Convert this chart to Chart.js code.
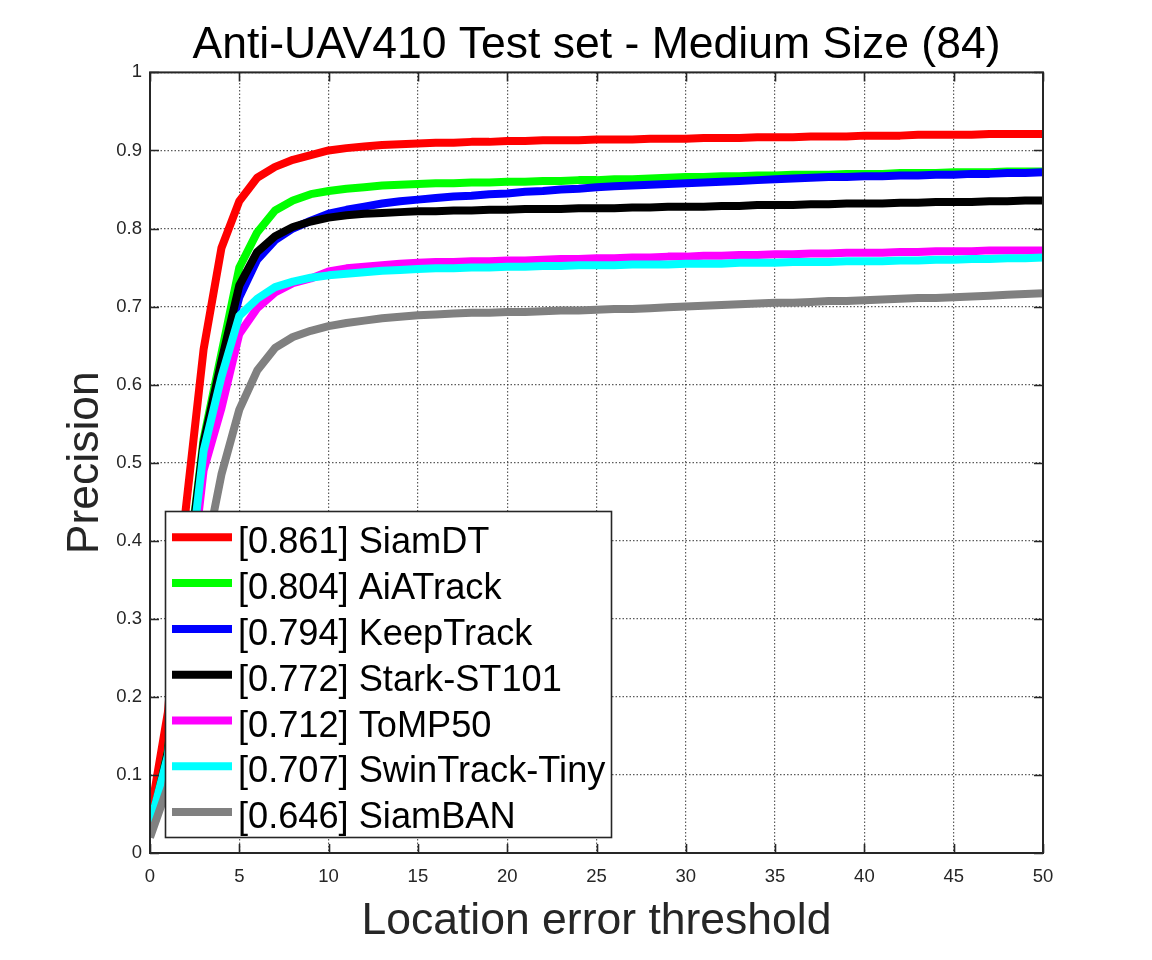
<!DOCTYPE html>
<html>
<head>
<meta charset="utf-8">
<script src="https://cdn.jsdelivr.net/npm/chart.js@4.4.0/dist/chart.umd.min.js"></script>
<style>
html,body{margin:0;padding:0;background:#ffffff;}
#c{display:block;}
</style>
</head>
<body>
<canvas id="c" width="1152" height="960"></canvas>
<script>
const titleText = 'Anti-UAV410 Test set - Medium Size (84)';
const xTitle = 'Location error threshold';
const yTitle = 'Precision';

const thresholds = [0,1,2,3,4,5,6,7,8,9,10,11,12,13,14,15,16,17,18,19,20,21,22,23,24,25,26,27,28,29,30,31,32,33,34,35,36,37,38,39,40,41,42,43,44,45,46,47,48,49,50];
const xTickLabels = ['0','5','10','15','20','25','30','35','40','45','50'];
const yTickLabels = ['0','0.1','0.2','0.3','0.4','0.5','0.6','0.7','0.8','0.9','1'];

const trackerNames = ['SiamDT','AiATrack','KeepTrack','Stark-ST101','ToMP50','SwinTrack-Tiny','SiamBAN'];
const trackerScores = ['0.861','0.804','0.794','0.772','0.712','0.707','0.646'];
const trackerColors = ['#ff0000','#00ff00','#0000ff','#000000','#ff00ff','#00ffff','#808080'];

const siamDT = [0.045,0.18,0.44,0.645,0.775,0.835,0.865,0.879,0.888,0.894,0.900,0.903,0.905,0.907,0.908,0.909,0.910,0.910,0.911,0.911,0.912,0.912,0.913,0.913,0.913,0.914,0.914,0.914,0.915,0.915,0.915,0.916,0.916,0.916,0.917,0.917,0.917,0.918,0.918,0.918,0.919,0.919,0.919,0.920,0.920,0.920,0.920,0.921,0.921,0.921,0.921];
const aiaTrack = [0.03,0.13,0.34,0.53,0.64,0.75,0.795,0.823,0.836,0.844,0.848,0.851,0.853,0.855,0.856,0.857,0.858,0.858,0.859,0.859,0.860,0.860,0.861,0.861,0.862,0.862,0.863,0.863,0.864,0.865,0.866,0.866,0.867,0.867,0.868,0.868,0.869,0.869,0.869,0.870,0.870,0.870,0.871,0.871,0.871,0.872,0.872,0.872,0.873,0.873,0.873];
const keepTrack = [0.03,0.12,0.33,0.52,0.625,0.712,0.76,0.785,0.80,0.81,0.819,0.824,0.828,0.832,0.835,0.837,0.839,0.841,0.842,0.844,0.845,0.847,0.848,0.850,0.851,0.853,0.854,0.855,0.856,0.857,0.858,0.859,0.860,0.861,0.862,0.863,0.864,0.865,0.866,0.866,0.867,0.867,0.868,0.868,0.869,0.869,0.870,0.870,0.871,0.871,0.872];
const starkST101 = [0.03,0.13,0.34,0.525,0.63,0.727,0.77,0.79,0.802,0.809,0.814,0.817,0.819,0.820,0.821,0.822,0.822,0.823,0.823,0.824,0.824,0.825,0.825,0.825,0.826,0.826,0.826,0.827,0.827,0.828,0.828,0.828,0.829,0.829,0.830,0.830,0.830,0.831,0.831,0.832,0.832,0.832,0.833,0.833,0.834,0.834,0.834,0.835,0.835,0.836,0.836];
const toMP50 = [0.03,0.115,0.29,0.49,0.57,0.665,0.698,0.718,0.73,0.736,0.745,0.749,0.751,0.753,0.755,0.756,0.757,0.757,0.758,0.758,0.759,0.759,0.760,0.761,0.761,0.762,0.762,0.763,0.763,0.764,0.764,0.765,0.765,0.766,0.766,0.767,0.767,0.768,0.768,0.769,0.769,0.769,0.770,0.770,0.771,0.771,0.771,0.772,0.772,0.772,0.772];
const swinTrackTiny = [0.035,0.125,0.32,0.515,0.61,0.688,0.71,0.725,0.732,0.737,0.740,0.742,0.744,0.746,0.747,0.748,0.749,0.749,0.750,0.750,0.751,0.751,0.752,0.752,0.753,0.753,0.753,0.754,0.754,0.754,0.755,0.755,0.755,0.756,0.756,0.756,0.757,0.757,0.757,0.758,0.758,0.758,0.759,0.759,0.760,0.760,0.761,0.761,0.762,0.762,0.763];
const siamBAN = [0.02,0.085,0.22,0.37,0.485,0.568,0.618,0.647,0.661,0.669,0.675,0.679,0.682,0.685,0.687,0.689,0.690,0.691,0.692,0.692,0.693,0.693,0.694,0.695,0.695,0.696,0.697,0.697,0.698,0.699,0.700,0.701,0.702,0.703,0.704,0.705,0.705,0.706,0.707,0.707,0.708,0.709,0.710,0.711,0.711,0.712,0.713,0.714,0.715,0.716,0.717];

const seriesValues = [siamDT, aiaTrack, keepTrack, starkST101, toMP50, swinTrackTiny, siamBAN];

const FONT = "'Liberation Sans', Arial, Helvetica, sans-serif";
const AXIS_COLOR = '#262626';

const datasets = seriesValues.map((vals, i) => ({
  label: '[' + trackerScores[i] + '] ' + trackerNames[i],
  data: vals.map((v, j) => ({x: thresholds[j], y: v})),
  borderColor: trackerColors[i],
  backgroundColor: trackerColors[i],
  borderWidth: 8,
  pointRadius: 0,
  tension: 0,
  fill: false,
  borderJoinStyle: 'round',
  order: -i
}));

const framePlugin = {
  id: 'matlabFrame',
  afterDatasetsDraw(chart) {
    const {ctx, chartArea: a, scales: {x, y}} = chart;
    ctx.save();
    ctx.strokeStyle = AXIS_COLOR;
    ctx.lineWidth = 1.6;
    ctx.setLineDash([]);
    const tl = 9;
    ctx.beginPath();
    x.ticks.forEach(t => {
      const px = Math.round(x.getPixelForValue(t.value)) + 0.5;
      ctx.moveTo(px, a.bottom); ctx.lineTo(px, a.bottom - tl);
      ctx.moveTo(px, a.top); ctx.lineTo(px, a.top + tl);
    });
    y.ticks.forEach(t => {
      const py = Math.round(y.getPixelForValue(t.value)) + 0.5;
      ctx.moveTo(a.left, py); ctx.lineTo(a.left + tl, py);
      ctx.moveTo(a.right, py); ctx.lineTo(a.right - tl, py);
    });
    ctx.stroke();
    ctx.lineWidth = 2;
    ctx.strokeRect(a.left, a.top, a.right - a.left, a.bottom - a.top);
    ctx.restore();
  }
};

const legendPlugin = {
  id: 'insideLegend',
  afterDraw(chart) {
    const ctx = chart.ctx;
    const bx = 165.5, by = 511.5, bw = 446, bh = 326;
    ctx.save();
    ctx.fillStyle = '#ffffff';
    ctx.fillRect(bx, by, bw, bh);
    ctx.strokeStyle = '#262626';
    ctx.lineWidth = 1.6;
    ctx.strokeRect(bx, by, bw, bh);
    const step = 45.8;
    ctx.font = '36.2px ' + FONT;
    ctx.textBaseline = 'alphabetic';
    ctx.textAlign = 'left';
    chart.data.datasets.forEach((ds, i) => {
      const cy = 537.3 + i * step;
      ctx.strokeStyle = ds.borderColor;
      ctx.lineWidth = 8;
      ctx.beginPath();
      ctx.moveTo(172, cy);
      ctx.lineTo(232, cy);
      ctx.stroke();
      ctx.fillStyle = '#000000';
      ctx.fillText(ds.label, 238, cy + 16);
    });
    ctx.restore();
  }
};

new Chart(document.getElementById('c'), {
  type: 'line',
  data: { datasets },
  options: {
    responsive: false,
    animation: false,
    devicePixelRatio: 1,
    layout: { padding: { left: 0, right: 109, top: 0, bottom: 0 } },
    plugins: {
      legend: { display: false },
      tooltip: { enabled: false },
      title: {
        display: true,
        fullSize: false,
        text: titleText,
        color: '#000000',
        font: { family: FONT, size: 44.5, weight: 'normal', lineHeight: 1.2 },
        padding: { top: 19, bottom: 0 }
      }
    },
    scales: {
      x: {
        type: 'linear',
        min: 0, max: 50,
        afterFit(scale) { scale.height = 107; },
        ticks: {
          stepSize: 5,
          color: AXIS_COLOR,
          font: { family: FONT, size: 18.5 },
          padding: 13,
          maxRotation: 0,
          callback: (v, i) => xTickLabels[i]
        },
        grid: { color: 'rgba(50,50,50,0.8)', lineWidth: 1.2, drawTicks: false },
        border: { display: false, dash: [1.5, 2] },
        title: {
          display: true,
          text: xTitle,
          color: AXIS_COLOR,
          font: { family: FONT, size: 44.5, lineHeight: 1.2 },
          padding: { top: 0, bottom: 12 }
        }
      },
      y: {
        type: 'linear',
        min: 0, max: 1,
        afterFit(scale) { scale.width = 150; },
        ticks: {
          stepSize: 0.1,
          color: AXIS_COLOR,
          font: { family: FONT, size: 18.5 },
          padding: 8,
          callback: (v, i) => yTickLabels[i]
        },
        grid: { color: 'rgba(50,50,50,0.8)', lineWidth: 1.2, drawTicks: false },
        border: { display: false, dash: [1.5, 2] },
        title: {
          display: true,
          text: yTitle,
          color: AXIS_COLOR,
          font: { family: FONT, size: 44.5, lineHeight: 1.2 },
          padding: { top: 59, bottom: 0 }
        }
      }
    }
  },
  plugins: [framePlugin, legendPlugin]
});
</script>
</body>
</html>
